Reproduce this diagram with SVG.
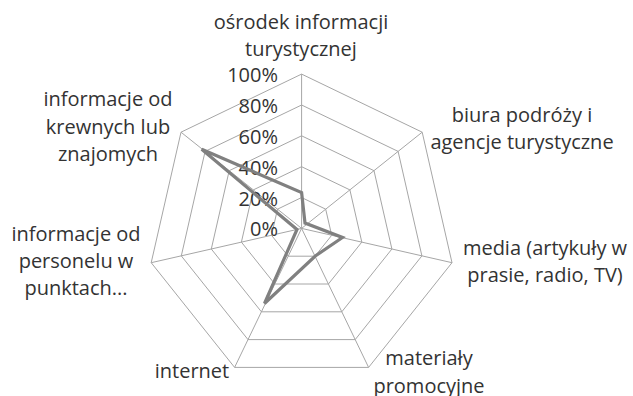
<svg xmlns="http://www.w3.org/2000/svg" width="633" height="396" viewBox="0 0 633 396">
<style>
.grid{fill:none;stroke:#a6a6a6;stroke-width:1}
.data{fill:none;stroke:#808080;stroke-width:3.2;stroke-linejoin:miter}
text{font-family:"Open Sans","Liberation Sans",sans-serif;font-size:20px;fill:#333}
.c{text-anchor:middle}
.r{text-anchor:end}
</style>
<rect width="633" height="396" fill="#fff"/>
<g id="grid">
<polygon class="grid" points="301.6,197.5 325.7,209.2 331.7,235.3 315.0,256.2 288.2,256.2 271.5,235.3 277.5,209.2"/>
<polygon class="grid" points="301.6,166.7 349.9,189.9 361.8,242.1 328.4,284.0 274.8,284.0 241.4,242.1 253.3,189.9"/>
<polygon class="grid" points="301.6,135.8 374.0,170.7 391.9,249.0 341.8,311.8 261.4,311.8 211.3,249.0 229.2,170.7"/>
<polygon class="grid" points="301.6,105.0 398.1,151.4 421.9,255.9 355.2,339.6 248.0,339.6 181.3,255.9 205.1,151.4"/>
<polygon class="grid" points="301.6,74.1 422.2,132.2 452.0,262.7 368.6,367.4 234.6,367.4 151.2,262.7 181.0,132.2"/>
<g id="connectors">
<path class="grid" d="M301.6,228.4L301.6,74.1M301.6,228.4L422.2,132.2M301.6,228.4L452.0,262.7M301.6,228.4L368.6,367.4M301.6,228.4L234.6,367.4M301.6,228.4L151.2,262.7M301.6,228.4L181.0,132.2"/>
</g>
</g>
<g id="ticks">
<text class="r" x="278" y="82">100%</text>
<text class="r" x="278" y="113">80%</text>
<text class="r" x="278" y="144">60%</text>
<text class="r" x="278" y="175">40%</text>
<text class="r" x="278" y="205.5">20%</text>
<text class="r" x="278" y="236">0%</text>
</g>
<g id="series">
<polygon class="data" points="301.6,192.5 305,223 342.5,237.5 315.3,256 264.5,303.5 297,229.5 201.7,149.3"/>
</g>
<g id="label-osrodek"><text class="c" x="301" y="29">ośrodek informacji</text><text class="c" x="301" y="56">turystycznej</text></g>
<g id="label-biura"><text class="c" x="522" y="121.5">biura podróży i</text><text class="c" x="522" y="148.5">agencje turystyczne</text></g>
<g id="label-media"><text class="c" x="545" y="255">media (artykuły w</text><text class="c" x="545" y="282">prasie, radio, TV)</text></g>
<g id="label-materialy"><text class="c" x="429" y="365">materiały</text><text class="c" x="429" y="393">promocyjne</text></g>
<g id="label-internet"><text class="c" x="192" y="378">internet</text></g>
<g id="label-personelu"><text class="c" x="76" y="241">informacje od</text><text class="c" x="76" y="268">personelu w</text><text class="c" x="76" y="295">punktach...</text></g>
<g id="label-krewnych"><text class="c" x="108" y="106">informacje od</text><text class="c" x="108" y="134">krewnych lub</text><text class="c" x="108" y="161">znajomych</text></g>
</svg>
